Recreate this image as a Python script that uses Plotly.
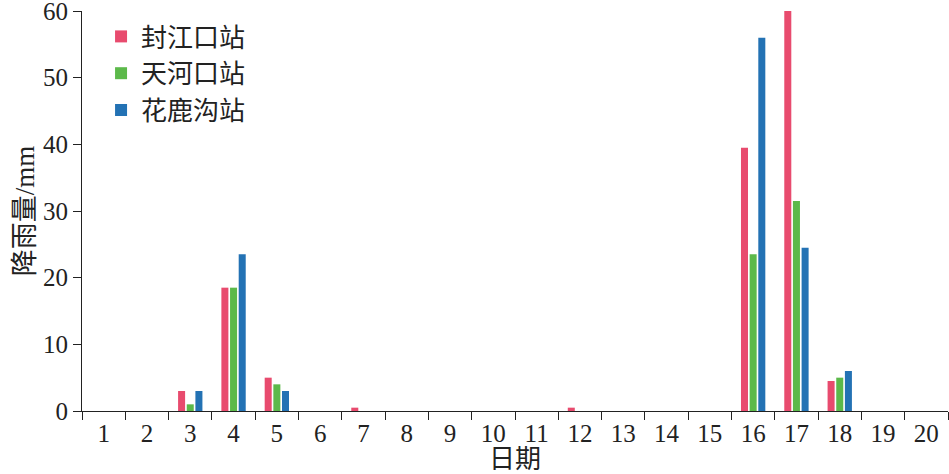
import plotly.graph_objs as go

# Daily rainfall (mm) at three stations, days 1-20
days = [str(d) for d in range(1, 21)]
fengjiangkou = [0, 0, 3, 18.5, 5, 0, 0.5, 0, 0, 0, 0, 0.5, 0, 0, 0, 39.5, 60, 4.5, 0, 0]
tianhekou = [0, 0, 1, 18.5, 4, 0, 0, 0, 0, 0, 0, 0, 0, 0, 0, 23.5, 31.5, 5, 0, 0]
hualugou = [0, 0, 3, 23.5, 3, 0, 0, 0, 0, 0, 0, 0, 0, 0, 0, 56, 24.5, 6, 0, 0]
y_ticks = [0, 10, 20, 30, 40, 50, 60]

FONT = "Liberation Serif, Times New Roman, Noto Sans CJK SC"

fig = go.Figure()

series = [
    ('封江口站', fengjiangkou, '#E84B6E'),
    ('天河口站', tianhekou, '#5CB94A'),
    ('花鹿沟站', hualugou, '#2372B4'),
]
for name, values, color in series:
    fig.add_trace(go.Bar(
        x=days,
        y=values,
        name=name,
        marker=dict(color=color, line=dict(width=0)),
    ))

fig.update_xaxes(
    type='category',
    tickson='boundaries',
    ticks='outside',
    ticklen=8,
    tickwidth=1,
    tickcolor='#222',
    showline=True,
    linecolor='#222',
    linewidth=1,
    showgrid=False,
    automargin=False,
    ticklabeloverflow='allow',
    tickfont=dict(family=FONT, size=25, color='#222'),
    title=dict(text='日期', font=dict(family=FONT, size=26, color='#222'), standoff=2),
)

fig.update_yaxes(
    range=[0, 60],
    tickvals=y_ticks,
    ticks='outside',
    ticklen=8,
    tickwidth=1,
    tickcolor='#222',
    showline=True,
    linecolor='#222',
    linewidth=1,
    showgrid=False,
    zeroline=False,
    automargin=False,
    ticklabeloverflow='allow',
    tickfont=dict(family=FONT, size=25, color='#222'),
    title=dict(text='降雨量/mm', font=dict(family=FONT, size=27, color='#222'), standoff=0),
)

fig.update_layout(
    barmode='group',
    bargap=0.4,
    bargroupgap=0.19,
    width=949,
    height=474,
    plot_bgcolor='white',
    paper_bgcolor='white',
    margin=dict(l=82, r=1, t=11, b=63),
    legend=dict(
        x=0.022,
        y=0.995,
        xanchor='left',
        yanchor='top',
        font=dict(family=FONT, size=26, color='#222'),
        itemwidth=30,
        tracegroupgap=0,
        bgcolor='rgba(0,0,0,0)',
    ),
)

fig.write_html("out.html", config={'displayModeBar': False},
               post_script="document.body.style.margin='0';")
